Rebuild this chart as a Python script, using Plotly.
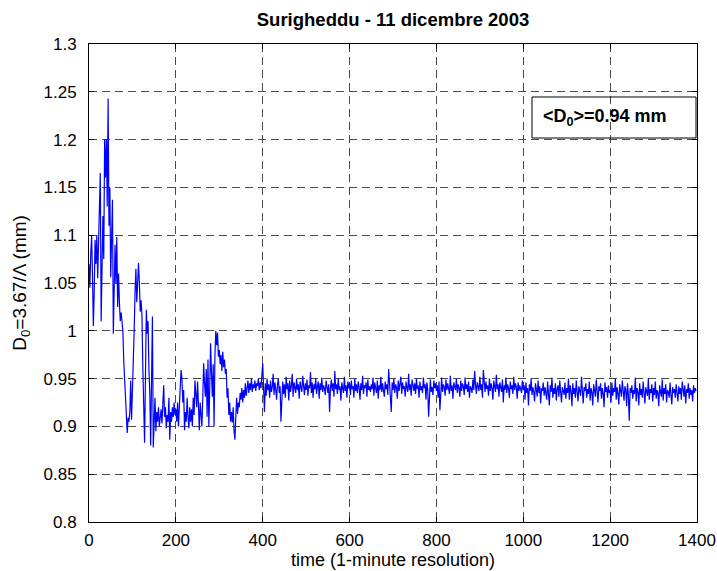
import plotly.graph_objects as go

# D0 series sampled every 2 minutes, values in thousandths of a millimetre
d0_start_to_400 = [
    1070, 1045, 1080, 1100, 1060, 1005, 1040, 1095, 1070, 1100,
    1055, 1105, 1140, 1165, 1010, 1095, 1120, 1075, 1200, 1160,
    1200, 1130, 1243, 1110, 1150, 1056, 1100, 1137, 997, 1070,
    1090, 1050, 1098, 1025, 1060, 1030, 1010, 1019, 1005, 1000,
    969, 950, 928, 910, 893, 909, 905, 915, 948, 907,
    935, 960, 1000, 1040, 1065, 1030, 1060, 1071, 1050, 1020,
    1032, 1015, 960, 920, 883, 952, 1022, 997, 1010, 960,
    935, 880, 990, 1015, 878, 900, 930, 895, 915, 905,
    920, 900, 910, 918, 903, 925, 943, 910, 920, 898,
    912, 905, 930, 886, 915, 905, 920, 910, 925, 912,
    918, 905, 925, 900, 915, 940, 959, 950, 925, 938,
    896, 915, 905, 930, 910, 898, 920, 905, 918, 900,
    930, 912, 948, 935, 920, 947, 915, 896, 925, 905,
    900, 930, 966, 945, 931, 960, 910, 970, 900, 940,
    987, 955, 931, 965, 900, 975, 1000, 985, 998, 973,
    980, 965, 975, 958, 978, 962, 970, 955, 960, 930,
    940, 912, 925, 905, 915, 904, 920, 895, 886, 910,
    930, 913, 925, 920, 935, 928, 940, 925, 938, 930,
    945, 932, 940, 948, 935, 945, 938, 950, 936, 944,
    940, 948, 937, 945, 942, 950, 938, 946, 940, 952,
]

d0_400_to_1000 = [
    966, 940, 915, 945, 932, 950, 938, 944, 930, 948, 936, 941, 955, 933, 946, 939, 928, 944, 950, 935, 942, 905, 938, 947, 934,
    944, 930, 952, 939, 945, 927, 948, 936, 942, 955, 931, 946, 940, 935, 950, 938, 944, 929, 947, 941, 936, 953, 940, 933, 945,
    938, 949, 932, 943, 940, 957, 935, 946, 930, 944, 939, 950, 934, 942, 947, 929, 945, 938, 951, 936, 943, 940, 933, 948, 941,
    935, 944, 915, 940, 949, 937, 945, 931, 958, 939, 944, 934, 950, 938, 942, 927, 946, 940, 935, 952, 937, 943, 930, 947, 940,
    945, 933, 948, 939, 942, 930, 950, 937, 944, 935, 947, 941, 928, 945, 938, 953, 934, 943, 940, 946, 931, 949, 938, 942, 936,
    944, 939, 951, 932, 946, 940, 935, 948, 929, 943, 938, 952, 936, 945, 940, 931, 947, 939, 944, 933, 960, 941, 936, 915, 946,
    938, 950, 935, 944, 941, 929, 948, 937, 943, 952, 934, 946, 939, 942, 931, 947, 940, 936, 955, 938, 944, 932, 949, 941, 937,
    945, 934, 950, 939, 943, 930, 947, 938, 942, 935, 951, 940, 944, 928, 946, 939, 910, 943, 949, 936, 941, 933, 948, 940, 945,
    937, 943, 930, 947, 917, 939, 951, 936, 944, 941, 932, 949, 938, 945, 940, 934, 953, 937, 943, 929, 946, 941, 938, 950, 935,
    944, 940, 931, 948, 937, 945, 942, 933, 951, 939, 944, 936, 947, 930, 942, 940, 935, 949, 938, 958, 943, 934, 946, 940, 937,
    952, 938, 944, 930, 959, 941, 936, 947, 939, 943, 932, 950, 937, 945, 940, 928, 948, 942, 936, 954, 939, 944, 931, 946, 940,
    936, 949, 925, 943, 938, 951, 935, 944, 940, 930, 947, 939, 943, 934, 952, 938, 945, 941, 929, 946, 937, 943, 940, 935, 948,
]

d0_1000_to_1400 = [
    938, 943, 928, 946, 935, 940, 922, 944, 937, 950, 933, 941, 936, 926, 945, 939, 931, 948, 935, 942, 924, 940, 937, 946, 932,
    941, 935, 928, 947, 938, 922, 943, 936, 951, 930, 940, 934, 945, 927, 939, 943, 931, 948, 936, 925, 941, 938, 933, 946, 929,
    940, 935, 950, 928, 943, 937, 921, 945, 934, 940, 930, 948, 936, 926, 942, 938, 932, 952, 935, 924, 941, 937, 945, 930, 939,
    934, 947, 927, 940, 936, 922, 944, 938, 931, 949, 935, 925, 942, 937, 945, 929, 940, 934, 920, 946, 936, 941, 930, 943, 935,
    938, 925, 946, 932, 940, 936, 950, 928, 941, 934, 923, 944, 937, 931, 948, 935, 927, 942, 938, 921, 945, 933, 906, 940, 935,
    943, 929, 938, 934, 951, 926, 940, 936, 922, 945, 933, 939, 930, 947, 935, 924, 941, 937, 932, 950, 928, 939, 935, 944, 926,
    940, 933, 947, 929, 938, 935, 921, 943, 936, 931, 949, 927, 940, 934, 944, 925, 938, 936, 930, 946, 933, 923, 941, 935, 939,
    930, 944, 936, 926, 942, 934, 940, 928, 947, 937, 931, 943, 924, 939, 935, 945, 929, 940, 933, 938, 926, 943, 935, 940, 937,
]

d0_mm = [v / 1000 for v in d0_start_to_400 + d0_400_to_1000 + d0_1000_to_1400]
time_min = list(range(0, 2 * len(d0_mm), 2))

y_ticks = [0.8, 0.85, 0.9, 0.95, 1.0, 1.05, 1.1, 1.15, 1.2, 1.25, 1.3]
y_tick_text = ["0.8", "0.85", "0.9", "0.95", "1", "1.05", "1.1", "1.15", "1.2", "1.25", "1.3"]
x_ticks = [0, 200, 400, 600, 800, 1000, 1200, 1400]

title_text = "Surigheddu - 11 dicembre 2003"
x_title = "time (1-minute resolution)"
y_title = "D<sub>0</sub>=3.67/\u039b (mm)"
mean_label = "<b>&lt;D<sub>0</sub>&gt;=0.94 mm</b>"

FONT = "Liberation Sans, Arial, sans-serif"

# plot area in pixels
W, H = 717, 571
L, R, T, B = 89, 20, 44, 49
PW, PH = W - L - R, H - T - B


def px_x(p):
    return (p - L) / PW


def px_y(p):
    return (H - B - p) / PH


fig = go.Figure(
    go.Scatter(
        x=time_min,
        y=d0_mm,
        mode="lines",
        line=dict(color="#0000ff", width=1.2),
        showlegend=False,
    )
)

axis_common = dict(
    showline=True,
    linecolor="black",
    linewidth=1,
    mirror="allticks",
    ticks="inside",
    ticklen=5,
    tickcolor="black",
    showgrid=True,
    gridcolor="#4a4a4a",
    gridwidth=1,
    griddash="8px,5px",
    zeroline=False,
    automargin=False,
    tickfont=dict(family=FONT, size=17, color="black"),
)

fig.update_xaxes(
    range=[0, 1400],
    tickvals=x_ticks,
    ticktext=[str(v) for v in x_ticks],
    ticklabelstandoff=3,
    title=dict(text=x_title, font=dict(family=FONT, size=18, color="black"), standoff=2),
    **axis_common,
)
fig.update_yaxes(
    range=[0.8, 1.3],
    tickvals=y_ticks,
    ticktext=y_tick_text,
    ticklabelstandoff=8,
    title=dict(text=y_title, font=dict(family=FONT, size=19, color="black"), standoff=11),
    **axis_common,
)

# framed mean-value label
fig.add_shape(
    type="rect",
    xref="paper",
    yref="paper",
    x0=px_x(532),
    x1=px_x(696),
    y0=px_y(138),
    y1=px_y(97),
    line=dict(color="black", width=1),
    fillcolor="rgba(0,0,0,0)",
    layer="above",
)
fig.add_annotation(
    xref="paper",
    yref="paper",
    x=px_x(541),
    y=px_y(117),
    text=mean_label,
    showarrow=False,
    font=dict(family=FONT, size=18, color="black"),
    xanchor="left",
    yanchor="middle",
)

fig.update_layout(
    width=W,
    height=H,
    margin=dict(l=L, r=R, t=T, b=B),
    paper_bgcolor="white",
    plot_bgcolor="white",
    title=dict(
        text="<b>" + title_text + "</b>",
        x=(L + PW / 2) / W,
        xanchor="center",
        y=1 - 20 / H,
        yanchor="middle",
        font=dict(family=FONT, size=18.5, color="black"),
    ),
)

fig.write_html("out.html")
